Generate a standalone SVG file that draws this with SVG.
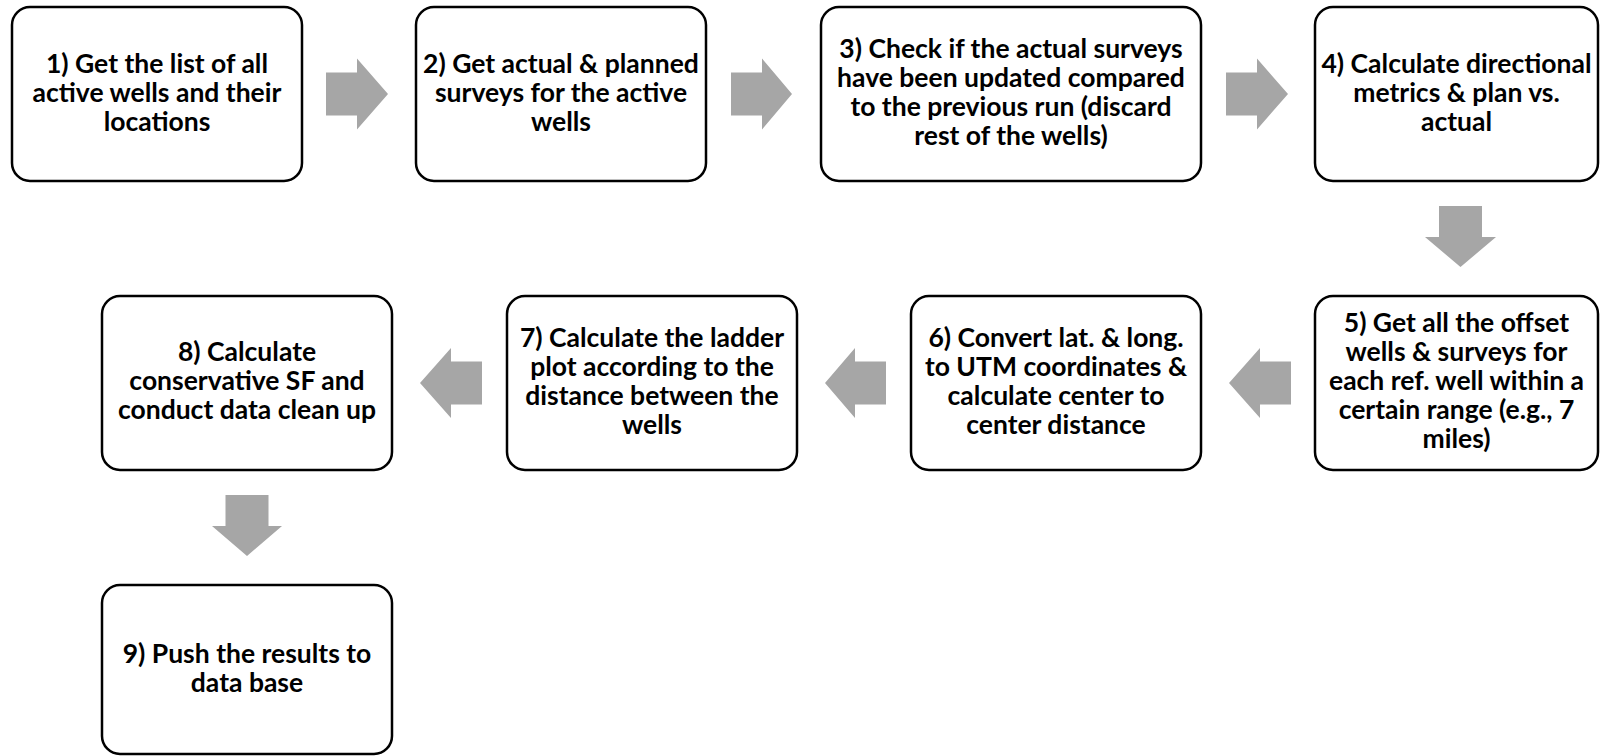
<svg xmlns="http://www.w3.org/2000/svg" width="1600" height="756" viewBox="0 0 1600 756">
<style>
.box{fill:#ffffff;stroke:#000000;stroke-width:2.5}
.arr{fill:#A6A6A6;stroke:none}
.lbl{font-family:Lato,"Open Sans","Liberation Sans",sans-serif;font-weight:700;font-size:26.5px;fill:#000000;text-anchor:middle}
</style>
<rect width="1600" height="756" fill="#ffffff"/>
<g id="connectors">
<path class="arr" d="M326,72.5 H357 V58.5 L388,94 L357,129.5 V115.5 H326 Z"/>
<path class="arr" d="M731,72.5 H762 V58.5 L792,94 L762,129.5 V115.5 H731 Z"/>
<path class="arr" d="M1226,72.5 H1257 V58.5 L1288,94 L1257,129.5 V115.5 H1226 Z"/>
<path class="arr" d="M1439,206 H1482 V237 H1496 L1460.5,267 L1425,237 H1439 Z"/>
<path class="arr" d="M1291,361.5 H1260 V348 L1229,383 L1260,418 V404.5 H1291 Z"/>
<path class="arr" d="M886,361.5 H855 V348 L825,383 L855,418 V404.5 H886 Z"/>
<path class="arr" d="M482,361.5 H451 V348 L420,383 L451,418 V404.5 H482 Z"/>
<path class="arr" d="M225.5,495 H268.5 V526 H282 L247,556 L212,526 H225.5 Z"/>
</g>
<g id="node1">
<rect class="box" x="12" y="7" width="290" height="174" rx="18"/>
<text class="lbl" x="157" y="73"><tspan x="157">1) Get the list of all</tspan><tspan x="157" dy="29">active wells and their</tspan><tspan x="157" dy="29">locations</tspan></text>
</g>
<g id="node2">
<rect class="box" x="416" y="7" width="290" height="174" rx="18"/>
<text class="lbl" x="561" y="73"><tspan x="561">2) Get actual &amp; planned</tspan><tspan x="561" dy="29">surveys for the active</tspan><tspan x="561" dy="29">wells</tspan></text>
</g>
<g id="node3">
<rect class="box" x="821" y="7" width="380" height="174" rx="18"/>
<text class="lbl" x="1011" y="57.5"><tspan x="1011">3) Check if the actual surveys</tspan><tspan x="1011" dy="29">have been updated compared</tspan><tspan x="1011" dy="29">to the previous run (discard</tspan><tspan x="1011" dy="29">rest of the wells)</tspan></text>
</g>
<g id="node4">
<rect class="box" x="1315" y="7" width="283" height="174" rx="18"/>
<text class="lbl" x="1456.5" y="73"><tspan x="1456.5">4) Calculate directional</tspan><tspan x="1456.5" dy="29">metrics &amp; plan vs.</tspan><tspan x="1456.5" dy="29">actual</tspan></text>
</g>
<g id="node5">
<rect class="box" x="1315" y="296" width="283" height="174" rx="18"/>
<text class="lbl" x="1456.5" y="332"><tspan x="1456.5">5) Get all the offset</tspan><tspan x="1456.5" dy="29">wells &amp; surveys for</tspan><tspan x="1456.5" dy="29">each ref. well within a</tspan><tspan x="1456.5" dy="29">certain range (e.g., 7</tspan><tspan x="1456.5" dy="29">miles)</tspan></text>
</g>
<g id="node6">
<rect class="box" x="911" y="296" width="290" height="174" rx="18"/>
<text class="lbl" x="1056" y="346.5"><tspan x="1056">6) Convert lat. &amp; long.</tspan><tspan x="1056" dy="29">to UTM coordinates &amp;</tspan><tspan x="1056" dy="29">calculate center to</tspan><tspan x="1056" dy="29">center distance</tspan></text>
</g>
<g id="node7">
<rect class="box" x="507" y="296" width="290" height="174" rx="18"/>
<text class="lbl" x="652" y="346.5"><tspan x="652">7) Calculate the ladder</tspan><tspan x="652" dy="29">plot according to the</tspan><tspan x="652" dy="29">distance between the</tspan><tspan x="652" dy="29">wells</tspan></text>
</g>
<g id="node8">
<rect class="box" x="102" y="296" width="290" height="174" rx="18"/>
<text class="lbl" x="247" y="361"><tspan x="247">8) Calculate</tspan><tspan x="247" dy="29">conservative SF and</tspan><tspan x="247" dy="29">conduct data clean up</tspan></text>
</g>
<g id="node9">
<rect class="box" x="102" y="585" width="290" height="169" rx="18"/>
<text class="lbl" x="247" y="663"><tspan x="247">9) Push the results to</tspan><tspan x="247" dy="29">data base</tspan></text>
</g>
</svg>
